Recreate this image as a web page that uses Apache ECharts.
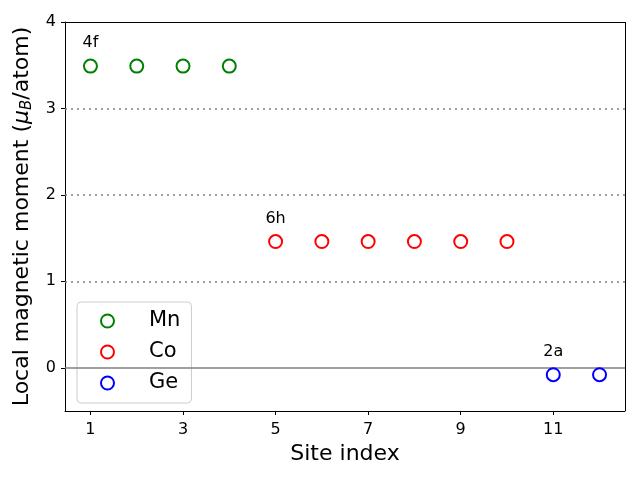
<!DOCTYPE html>
<html><head><meta charset="utf-8">
<script src="https://cdn.jsdelivr.net/npm/echarts@6/dist/echarts.min.js"></script>
<style>html,body{margin:0;padding:0;background:#fff}#c{width:640px;height:480px}</style>
</head><body><div id="c"></div>
<script>
const mnSites = [1, 2, 3, 4];
const mnValues = [3.49, 3.49, 3.49, 3.49];
const coSites = [5, 6, 7, 8, 9, 10];
const coValues = [1.46, 1.46, 1.46, 1.46, 1.46, 1.46];
const geSites = [11, 12];
const geValues = [-0.08, -0.08];
const xTicks = [1, 3, 5, 7, 9, 11];
const yTicks = [0, 1, 2, 3, 4];
const dottedLevels = [1, 2, 3];
const siteLabels = ['4f', '6h', '2a'];
const siteLabelX = [1, 5, 11];
const siteLabelY = [3.76, 1.72, 0.18];

const font = 'DejaVu Sans';
const chart = echarts.init(document.getElementById('c'), null, {renderer: 'canvas'});
function pts(xs, ys) { return xs.map((x, i) => [x, ys[i]]); }
function sc(name, xs, ys, color) {
  return {
    name, type: 'scatter', symbol: 'emptyCircle', symbolSize: 13,
    itemStyle: {color: color, borderColor: color, borderWidth: 1.2, opacity: 1},
    data: pts(xs, ys), z: 5
  };
}
const lines = dottedLevels.map(v => ({yAxis: v, lineStyle: {type: [2, 4], color: '#808080', width: 1.5}}));
lines.push({yAxis: 0, lineStyle: {type: 'solid', color: '#808080', width: 1.6}});

chart.setOption({
  animation: false,
  textStyle: {fontFamily: font},
  grid: {left: 65, right: 15, top: 22, bottom: 69, show: false},
  xAxis: {
    type: 'value', min: 0.45, max: 12.55,
    name: 'Site index', nameLocation: 'middle', nameGap: 31,
    nameTextStyle: {fontSize: 22, color: '#000', fontFamily: font},
    axisLine: {show: true, onZero: false, lineStyle: {color: '#000', width: 1}},
    axisTick: {show: true, length: 4, customValues: xTicks, lineStyle: {color: '#000'}},
    axisLabel: {customValues: xTicks, fontSize: 16, color: '#000', margin: 11, fontFamily: font},
    splitLine: {show: false}
  },
  yAxis: {
    type: 'value', min: -0.5, max: 4,
    name: 'Local magnetic moment ({i|μ}{s|B}/atom)', nameLocation: 'middle', nameGap: 27, nameRotate: 90,
    nameTextStyle: {fontSize: 22, color: '#000', fontFamily: font,
      rich: {i: {fontSize: 22, fontStyle: 'italic', fontFamily: font, color: '#000'},
             s: {fontSize: 15, fontStyle: 'italic', fontFamily: font, color: '#000', padding: [10, 0, 0, 0]}}},
    axisLine: {show: true, onZero: false, lineStyle: {color: '#000', width: 1}},
    axisTick: {show: true, length: 4, customValues: yTicks, lineStyle: {color: '#000'}},
    axisLabel: {customValues: yTicks, fontSize: 16, color: '#000', margin: 9, fontFamily: font},
    splitLine: {show: false}
  },
  legend: {
    orient: 'vertical', left: 77, top: 302,
    data: ['Mn', 'Co', 'Ge'],
    itemWidth: 13, itemHeight: 13, itemGap: 9,
    padding: [8, 11, 9, 23],
    backgroundColor: 'rgba(255,255,255,0.8)', borderColor: '#cccccc', borderWidth: 1, borderRadius: 4,
    textStyle: {fontSize: 21, color: '#000', fontFamily: font, lineHeight: 22, padding: [0, 0, 0, 30]}
  },
  series: [
    sc('Mn', mnSites, mnValues, '#008000'),
    sc('Co', coSites, coValues, '#ff0000'),
    sc('Ge', geSites, geValues, '#0000ff'),
    {
      type: 'scatter', symbolSize: 0, silent: true, z: 6,
      itemStyle: {opacity: 1},
      data: siteLabels.map((t, i) => ({value: [siteLabelX[i], siteLabelY[i]], name: t})),
      label: {show: true, position: 'inside', formatter: p => p.name, fontSize: 16, color: '#000', opacity: 1, fontFamily: font}
    },
    {
      type: 'line', data: [], silent: true, z: 1,
      markLine: {silent: true, symbol: 'none', label: {show: false}, animation: false, data: lines}
    },
    {
      type: 'line', data: [], silent: true, z: 1,
      markLine: {silent: true, symbol: 'none', label: {show: false}, data: [
        {yAxis: 4, lineStyle: {type: 'solid', color: '#000', width: 1}},
        {xAxis: 12.55, lineStyle: {type: 'solid', color: '#000', width: 1}}
      ]}
    }
  ]
});
</script></body></html>
